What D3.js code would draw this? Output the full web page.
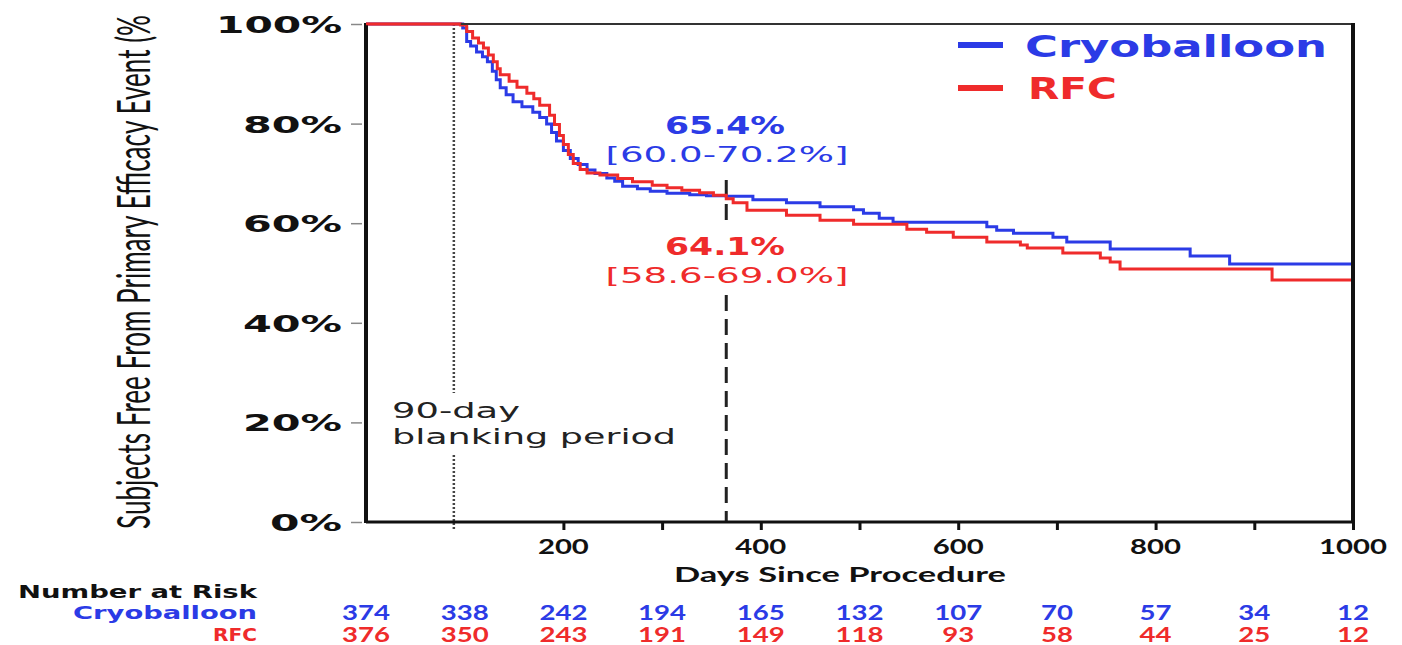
<!DOCTYPE html>
<html>
<head>
<meta charset="utf-8">
<script src="https://cdn.jsdelivr.net/npm/d3@7"></script>
<style>
  body { margin: 0; background: #fff; }
  svg { display: block; }
</style>
</head>
<body>
<svg id="km" width="1402" height="645"></svg>
<script>
(function() {
    // Kaplan-Meier steps: day of the drop and the new % free
    const cryoDays = [0, 98, 102, 106, 112, 118, 123, 128, 132, 136, 142, 149, 158, 169, 176, 183, 188, 193, 200, 207, 215, 224, 232, 244, 252, 260, 275, 288, 305, 328, 345, 365, 392, 426, 460, 494, 504, 520, 534, 629, 639, 656, 696, 710, 754, 835, 875];
    const cryoPct  = [100, 99.2, 96.5, 95.6, 94.4, 93.4, 92.4, 90.5, 88.8, 87.2, 85.8, 84.4, 83.4, 82.3, 81.2, 79.9, 78.2, 76.5, 74.6, 73.0, 71.8, 70.7, 70.0, 69.1, 68.4, 67.4, 66.9, 66.4, 66.0, 65.7, 65.5, 65.4, 64.7, 64.1, 63.3, 62.7, 62.0, 61.0, 60.2, 59.3, 58.6, 58.0, 57.2, 56.2, 54.8, 53.4, 51.8];

    const rfcDays = [0, 96, 102, 108, 114, 119, 124, 129, 133, 136, 145, 153, 163, 170, 176, 186, 191, 196, 200, 205, 210, 217, 224, 237, 255, 270, 290, 305, 320, 338, 352, 365, 372, 386, 426, 460, 494, 548, 568, 595, 629, 663, 670, 706, 744, 754, 764, 918];
    const rfcPct  = [100, 99.8, 98.5, 97.2, 96.2, 95.2, 93.8, 92.4, 91.0, 89.8, 88.5, 87.3, 86.1, 85.0, 83.7, 81.7, 79.8, 77.6, 75.8, 73.8, 72.0, 70.8, 70.1, 69.7, 69.0, 68.3, 67.6, 67.1, 66.6, 66.1, 65.6, 64.9, 64.1, 62.6, 61.6, 60.6, 59.8, 58.8, 58.2, 57.2, 56.2, 55.6, 55.0, 54.0, 53.0, 52.2, 50.8, 48.6];

    // number at risk table
    const riskDays = [0, 100, 200, 300, 400, 500, 600, 700, 800, 900, 1000];
    const cryoRisk = [374, 338, 242, 194, 165, 132, 107, 70, 57, 34, 12];
    const rfcRisk  = [376, 350, 243, 191, 149, 118, 93, 58, 44, 25, 12];

    const yTicks = [0, 20, 40, 60, 80, 100];
    const xTicks = [200, 300, 400, 500, 600, 700, 800, 900, 1000];
    const xLabels = [200, 400, 600, 800, 1000];

    const blue = "#2b3be6", red = "#ef2b2b";
    const wide = "'DejaVu Sans', Verdana, sans-serif";
    const calib = "Lato, 'Open Sans', sans-serif";

    const svg = d3.select("#km");

    const x = d3.scaleLinear().domain([0, 1000]).range([366, 1353]);
    const y = d3.scaleLinear().domain([0, 100]).range([522, 24]);

    // little helper: the source picture is stretched sideways, so text widths are forced
    function txt(str, px, py, o) {
        const t = svg.append("text")
            .attr("x", px).attr("y", py)
            .attr("font-family", o.font || wide)
            .attr("font-size", o.size)
            .attr("font-weight", o.bold ? "bold" : "normal")
            .attr("fill", o.fill || "#111")
            .attr("text-anchor", o.anchor || "start")
            .text(str);
        if (o.len) t.attr("textLength", o.len).attr("lengthAdjust", "spacingAndGlyphs");
        return t;
    }

    // y axis ticks + labels
    const yAxis = svg.append("g")
        .attr("transform", "translate(362,0)")
        .call(d3.axisLeft(y).tickValues(yTicks).tickSize(11).tickFormat(""));
    yAxis.select(".domain").remove();
    yAxis.selectAll(".tick line").attr("stroke", "#888").attr("stroke-width", 1.5);

    yTicks.forEach(v => {
        const s = v + "%";
        txt(s, 342, y(v) + 9, { size: 23, bold: true, anchor: "end", len: 27 * String(v).length + 45 });
    });

    // x axis ticks + labels
    const xAxis = svg.append("g")
        .attr("transform", "translate(0,522)")
        .call(d3.axisBottom(x).tickValues(xTicks).tickSize(8).tickFormat(""));
    xAxis.select(".domain").remove();
    xAxis.selectAll(".tick line").attr("stroke", "#111").attr("stroke-width", 3);

    xLabels.forEach(v => {
        txt(String(v), x(v), 554, { font: calib, size: 20, bold: true, anchor: "middle", len: 17 * String(v).length });
    });

    txt("Days Since Procedure", 840, 582, { font: calib, size: 20, bold: true, anchor: "middle", len: 332 });

    // y title (cut off at the top in the source); glyphs widened with scale
    svg.append("text")
        .attr("transform", "translate(150,272) scale(1.9,1) rotate(-90)")
        .attr("font-family", calib)
        .attr("font-size", 24)
        .attr("fill", "#111")
        .attr("text-anchor", "middle")
        .attr("textLength", 514)
        .attr("lengthAdjust", "spacingAndGlyphs")
        .text("Subjects Free From Primary Efficacy Event (%");

    // 90-day blanking line (dotted) with a gap for the label
    const dot = svg.append("g")
        .attr("stroke", "#444").attr("stroke-width", 2.5).attr("stroke-dasharray", "2,2");
    dot.append("line").attr("x1", x(89)).attr("x2", x(89)).attr("y1", y(100)).attr("y2", 393);
    dot.append("line").attr("x1", x(89)).attr("x2", x(89)).attr("y1", 455).attr("y2", 530);

    txt("90-day", 392, 418, { size: 21, len: 128, fill: "#222" });
    txt("blanking period", 392, 444, { size: 21, len: 284, fill: "#222" });

    // 1-year dashed line
    const dash = svg.append("g")
        .attr("stroke", "#222").attr("stroke-width", 3).attr("stroke-dasharray", "16,8");
    dash.append("line").attr("x1", x(365)).attr("x2", x(365)).attr("y1", 180).attr("y2", 222);
    dash.append("line").attr("x1", x(365)).attr("x2", x(365)).attr("y1", 295).attr("y2", 522);

    // survival curves
    const line = d3.line()
        .x(d => x(d[0]))
        .y(d => y(d[1]))
        .curve(d3.curveStepAfter);

    function steps(days, pct) {
        const pts = days.map((d, i) => [d, pct[i]]);
        pts.push([1000, pct[pct.length - 1]]);
        return pts;
    }

    svg.append("path")
        .attr("d", line(steps(cryoDays, cryoPct)))
        .attr("fill", "none").attr("stroke", blue).attr("stroke-width", 3);
    svg.append("path")
        .attr("d", line(steps(rfcDays, rfcPct)))
        .attr("fill", "none").attr("stroke", red).attr("stroke-width", 3);

    // frame
    svg.append("line").attr("x1", x(0)).attr("x2", x(1000)).attr("y1", y(100)).attr("y2", y(100))
        .attr("stroke", "#333").attr("stroke-width", 2);
    svg.append("line").attr("x1", x(0)).attr("x2", x(1000)).attr("y1", y(0)).attr("y2", y(0))
        .attr("stroke", "#111").attr("stroke-width", 3);
    svg.append("line").attr("x1", x(0)).attr("x2", x(0)).attr("y1", y(100) - 1).attr("y2", y(0) + 1)
        .attr("stroke", "#111").attr("stroke-width", 4);
    svg.append("line").attr("x1", x(1000)).attr("x2", x(1000)).attr("y1", y(100) - 1).attr("y2", y(0) + 1)
        .attr("stroke", "#111").attr("stroke-width", 4);
    // red runs on top of the frame at 100%
    svg.append("line").attr("x1", x(0)).attr("x2", x(96)).attr("y1", y(100)).attr("y2", y(100))
        .attr("stroke", red).attr("stroke-width", 2.5);

    // one-year estimates
    txt("65.4%", 725, 134, { size: 24, bold: true, anchor: "middle", fill: blue, len: 120 });
    txt("[60.0-70.2%]", 727, 162, { size: 22, anchor: "middle", fill: blue, len: 243 });
    txt("64.1%", 725, 255, { size: 24, bold: true, anchor: "middle", fill: red, len: 120 });
    txt("[58.6-69.0%]", 727, 283, { size: 22, anchor: "middle", fill: red, len: 243 });

    // legend
    svg.append("line").attr("x1", 958).attr("x2", 1003).attr("y1", 45).attr("y2", 45)
        .attr("stroke", blue).attr("stroke-width", 6);
    txt("Cryoballoon", 1025, 57, { size: 30, bold: true, fill: blue, len: 302 });
    svg.append("line").attr("x1", 958).attr("x2", 1003).attr("y1", 88).attr("y2", 88)
        .attr("stroke", red).attr("stroke-width", 6);
    txt("RFC", 1028, 99, { size: 30, bold: true, fill: red, len: 89 });

    // number at risk
    txt("Number at Risk", 18, 598, { size: 18, bold: true, len: 239 });
    txt("Cryoballoon", 257, 619, { size: 18, bold: true, anchor: "end", fill: blue, len: 184 });
    txt("RFC", 257, 641, { size: 18, bold: true, anchor: "end", fill: red, len: 44 });

    riskDays.forEach((d, i) => {
        txt(String(cryoRisk[i]), x(d), 620, { font: calib, size: 20, bold: true, anchor: "middle", fill: blue, len: 16 * String(cryoRisk[i]).length });
        txt(String(rfcRisk[i]), x(d), 642, { font: calib, size: 20, bold: true, anchor: "middle", fill: red, len: 16 * String(rfcRisk[i]).length });
    });
})();
</script>
</body>
</html>
